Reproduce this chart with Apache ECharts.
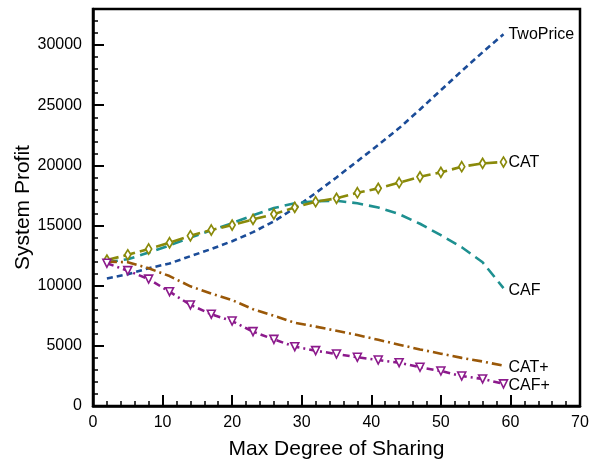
<!DOCTYPE html>
<html>
<head>
<meta charset="utf-8">
<script src="https://cdn.jsdelivr.net/npm/echarts@6/dist/echarts.min.js"></script>
<style>html,body{margin:0;padding:0;background:#fff}#c{width:602px;height:466px}</style>
</head>
<body>
<div id="c"></div>
<script>
const xValues   = [2, 5, 8, 11, 14, 17, 20, 23, 26, 29, 32, 35, 38, 41, 44, 47, 50, 53, 56, 59];
const twoPrice  = [10600, 10950, 11450, 11850, 12450, 13050, 13700, 14450, 15350, 16450, 17700, 19000, 20350, 21700, 23100, 24650, 26250, 27850, 29400, 30900];
const caf       = [11950, 12200, 12750, 13350, 14000, 14600, 15200, 15850, 16450, 16850, 17030, 17060, 16850, 16500, 15950, 15150, 14200, 13200, 11950, 9800];
const cat       = [12130, 12570, 13050, 13570, 14150, 14630, 15040, 15510, 15950, 16510, 16980, 17260, 17730, 18090, 18560, 19050, 19420, 19890, 20170, 20280];
const catPlus   = [12000, 11950, 11450, 10800, 9950, 9350, 8800, 8050, 7500, 6920, 6600, 6250, 5900, 5500, 5100, 4700, 4350, 4000, 3700, 3350];
const cafPlus   = [11860, 11250, 10550, 9500, 8400, 7630, 7060, 6180, 5540, 4930, 4600, 4320, 4050, 3820, 3600, 3220, 2910, 2490, 2250, 1840];
const xTicks = {min: 0, max: 70, interval: 10};
const yTicks = {min: 0, max: 33000, interval: 5000, minor: 1000};

const FONT = 'Liberation Sans';
function pairs(ys){ return xValues.map((x,i)=>[x, ys[i]]); }
function lineSeries(name, ys, color, dash, labelDy, extra){
  return Object.assign({
    name, type: 'line', data: pairs(ys), xAxisIndex: 0, yAxisIndex: 0,
    showSymbol: false, symbol: 'none',
    lineStyle: {color, width: 2.6, type: dash},
    itemStyle: {color},
    endLabel: {show: true, formatter: name, color: '#000', fontFamily: FONT, fontSize: 16, distance: 5, offset: [0, labelDy]},
    animation: false
  }, extra || {});
}

const chart = echarts.init(document.getElementById('c'), null, {renderer: 'canvas'});
chart.setOption({
  animation: false,
  backgroundColor: '#fff',
  grid: {left: 93, right: 22, top: 9, bottom: 60, show: true, borderColor: '#000', borderWidth: 2.5, backgroundColor: 'transparent'},
  xAxis: [{
    type: 'value', min: xTicks.min, max: xTicks.max, interval: xTicks.interval,
    name: 'Max Degree of Sharing', nameLocation: 'middle', nameGap: 33, nameMoveOverlap: false,
    nameTextStyle: {fontFamily: FONT, fontSize: 21, color: '#000'},
    axisLine: {show: true, lineStyle: {color: '#000', width: 2.5}},
    axisTick: {show: true, inside: true, length: 11, lineStyle: {color: '#000', width: 2}},
    minorTick: {show: true, splitNumber: 5, length: 5, lineStyle: {color: '#000', width: 1.5}},
    axisLabel: {fontFamily: FONT, fontSize: 16, color: '#000', margin: 9},
    splitLine: {show: false}
  }],
  yAxis: [{
    type: 'value', min: yTicks.min, max: yTicks.max, interval: yTicks.interval,
    name: 'System Profit', nameLocation: 'middle', nameGap: 59, nameMoveOverlap: false,
    nameTextStyle: {fontFamily: FONT, fontSize: 21, color: '#000'},
    axisLine: {show: true, lineStyle: {color: '#000', width: 2.5}},
    axisTick: {show: true, inside: true, length: 11, lineStyle: {color: '#000', width: 2}},
    axisLabel: {fontFamily: FONT, fontSize: 16, color: '#000', margin: 11,
      formatter: v => (v % yTicks.interval === 0 ? String(v) : '')},
    splitLine: {show: false}
  }, {
    type: 'value', min: yTicks.min, max: yTicks.max, interval: yTicks.minor, position: 'left',
    axisLine: {show: false},
    axisTick: {show: true, inside: true, length: 5, lineStyle: {color: '#000', width: 1.5}},
    axisLabel: {show: false},
    splitLine: {show: false}
  }],
  series: [
    lineSeries('TwoPrice', twoPrice, '#1b4c98', [6, 4], 0),
    lineSeries('CAF', caf, '#1e9090', [11, 6], 2),
    lineSeries('CAT+', catPlus, '#9a5808', [10, 4, 2, 4], 2),
    lineSeries('CAT', cat, '#8a8a0a', [12, 5], 1, {
      showSymbol: true, symbol: 'diamond', symbolSize: [6, 10],
      itemStyle: {color: '#fff', borderColor: '#8a8a0a', borderWidth: 1.8}
    }),
    lineSeries('CAF+', cafPlus, '#8c1a8c', [7, 4, 2, 4], 2, {
      showSymbol: true, symbol: 'triangle', symbolRotate: 180, symbolSize: 8,
      itemStyle: {color: '#fff', borderColor: '#8c1a8c', borderWidth: 1.6}
    })
  ]
});
</script>
</body>
</html>
